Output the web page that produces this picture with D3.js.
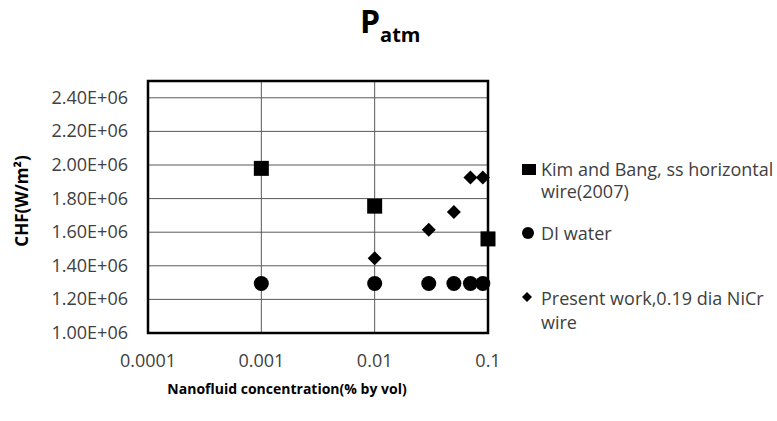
<!DOCTYPE html>
<html>
<head>
<meta charset="utf-8">
<script src="https://cdn.jsdelivr.net/npm/d3@7"></script>
<style>
  body { margin: 0; background: #fff; }
  text { font-family: "Open Sans", sans-serif; }
</style>
</head>
<body>
<div id="chart"></div>
<script>
// data
var xTicks = [0.0001, 0.001, 0.01, 0.1];
var xTickLabels = ["0.0001", "0.001", "0.01", "0.1"];
var yTicks = [1.0e6, 1.2e6, 1.4e6, 1.6e6, 1.8e6, 2.0e6, 2.2e6, 2.4e6];

var kimX = [0.001, 0.01, 0.1];
var kimY = [1.98e6, 1.755e6, 1.56e6];

var diX = [0.001, 0.01, 0.03, 0.05, 0.07, 0.09];
var diY = [1.295e6, 1.295e6, 1.295e6, 1.295e6, 1.295e6, 1.295e6];

var presentX = [0.01, 0.03, 0.05, 0.07, 0.09];
var presentY = [1.445e6, 1.615e6, 1.72e6, 1.925e6, 1.925e6];

var seriesNames = ["Kim and Bang, ss horizontal|wire(2007)", "DI water", "Present work,0.19 dia NiCr|wire"];

// layout
var width = 777, height = 421;
var margin = {top: 81, left: 148, right: 289, bottom: 88};
var plotW = width - margin.left - margin.right,
    plotH = height - margin.top - margin.bottom;

var svg = d3.select("#chart").append("svg")
    .attr("width", width)
    .attr("height", height);

var g = svg.append("g")
    .attr("transform", "translate(" + margin.left + "," + margin.top + ")");

var x = d3.scaleLog()
    .domain([0.0001, 0.1])
    .range([0, plotW]);

var y = d3.scaleLinear()
    .domain([1.0e6, 2.5e6])
    .range([plotH, 0]);

// gridlines
g.selectAll(".hgrid")
    .data(yTicks)
  .enter().append("line")
    .attr("x1", 0).attr("x2", plotW)
    .attr("y1", function(d) { return y(d); })
    .attr("y2", function(d) { return y(d); })
    .style("stroke", "#595959")
    .style("stroke-width", "1px");

g.selectAll(".vgrid")
    .data(xTicks)
  .enter().append("line")
    .attr("y1", 0).attr("y2", plotH)
    .attr("x1", function(d) { return x(d); })
    .attr("x2", function(d) { return x(d); })
    .style("stroke", "#595959")
    .style("stroke-width", "1px");

// frame
g.append("rect")
    .attr("width", plotW)
    .attr("height", plotH)
    .style("fill", "none")
    .style("stroke", "#000")
    .style("stroke-width", "2.5px");

// tick labels
g.selectAll(".ylab")
    .data(yTicks)
  .enter().append("text")
    .text(function(d) { return (d / 1e6).toFixed(2) + "E+06"; })
    .attr("x", -20)
    .attr("y", function(d) { return y(d) + 6; })
    .attr("text-anchor", "end")
    .attr("font-size", "18px")
    .attr("fill", "#404040");

g.selectAll(".xlab")
    .data(xTicks)
  .enter().append("text")
    .text(function(d, i) { return xTickLabels[i]; })
    .attr("x", function(d) { return x(d); })
    .attr("y", plotH + 34)
    .attr("text-anchor", "middle")
    .attr("font-size", "18px")
    .attr("fill", "#404040");

// markers
var kim = kimX.map(function(d, i) { return {x: d, y: kimY[i]}; });
var di = diX.map(function(d, i) { return {x: d, y: diY[i]}; });
var present = presentX.map(function(d, i) { return {x: d, y: presentY[i]}; });

g.selectAll(".di")
    .data(di)
  .enter().append("circle")
    .attr("cx", function(d) { return x(d.x); })
    .attr("cy", function(d) { return y(d.y); })
    .attr("r", 7.5)
    .style("fill", "#000");

g.selectAll(".kim")
    .data(kim)
  .enter().append("path")
    .attr("d", d3.symbol(d3.symbolSquare, 225))
    .attr("transform", function(d) { return "translate(" + x(d.x) + "," + y(d.y) + ")"; })
    .style("fill", "#000");

g.selectAll(".present")
    .data(present)
  .enter().append("path")
    .attr("d", "M0,-7L7,0L0,7L-7,0Z")
    .attr("transform", function(d) { return "translate(" + x(d.x) + "," + y(d.y) + ")"; })
    .style("fill", "#000");

// title
var title = svg.append("text")
    .attr("x", 360)
    .attr("y", 33)
    .attr("font-weight", "bold")
    .attr("fill", "#000");
title.append("tspan").text("P").attr("font-size", "32px");
title.append("tspan").text("atm").attr("font-size", "20px").attr("dy", 9);

// axis titles
svg.append("text")
    .text("Nanofluid concentration(% by vol)")
    .attr("x", 287)
    .attr("y", 394)
    .attr("text-anchor", "middle")
    .attr("font-weight", "bold")
    .attr("font-size", "14px")
    .attr("fill", "#000");

svg.append("text")
    .text("CHF(W/m\u00B2)")
    .attr("transform", "translate(28,201) rotate(-90)")
    .attr("text-anchor", "middle")
    .attr("font-weight", "bold")
    .attr("font-size", "17px")
    .attr("fill", "#000");

// legend
var legendBase = [176, 240, 305];
var legendGap = [22, 0, 24];
var legend = svg.append("g");
seriesNames.forEach(function(name, i) {
  var lines = name.split("|");
  var t = legend.append("text")
      .attr("x", 541)
      .attr("y", legendBase[i])
      .attr("font-size", "18px")
      .attr("fill", "#404040");
  lines.forEach(function(l, j) {
    t.append("tspan").text(l).attr("x", 541).attr("dy", j === 0 ? 0 : legendGap[i]);
  });
});
legend.append("rect").attr("x", 522).attr("y", 164).attr("width", 14).attr("height", 11).style("fill", "#000");
legend.append("circle").attr("cx", 528).attr("cy", 233).attr("r", 6).style("fill", "#000");
legend.append("path").attr("d", "M0,-5L5,0L0,5L-5,0Z").attr("transform", "translate(527,297)").style("fill", "#000");
</script>
</body>
</html>
